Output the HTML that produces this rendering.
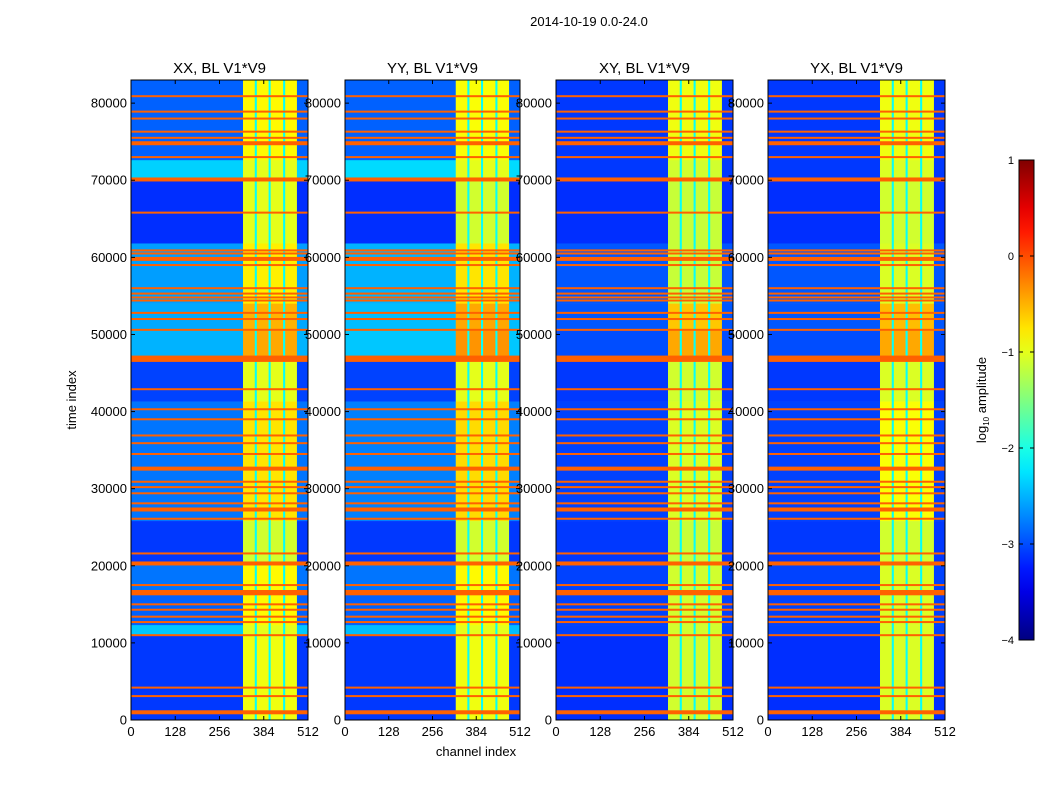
<!DOCTYPE html>
<html><head><meta charset="utf-8">
<style>
body{margin:0;background:#fff;}
svg text{font-family:"Liberation Sans","DejaVu Sans",sans-serif;fill:#000;}
</style></head>
<body>
<svg id="fig" width="1050" height="800" xmlns="http://www.w3.org/2000/svg">
<text x="589" y="26" font-size="13" text-anchor="middle">2014-10-19 0.0-24.0</text>
<text transform="translate(76,400) rotate(-90)" font-size="13" text-anchor="middle">time index</text>
<text x="476" y="756" font-size="13" text-anchor="middle">channel index</text>
<g id="panels"></g>
<defs><linearGradient id="jetg" x1="0" y1="1" x2="0" y2="0"></linearGradient></defs>
<g id="cbar"></g>
<text transform="translate(986,400) rotate(-90)" font-size="13" text-anchor="middle">log<tspan font-size="8" dy="3">10</tspan><tspan dy="-3"> amplitude</tspan></text>
</svg>
<script>
const panelTitles = ["XX, BL V1*V9","YY, BL V1*V9","XY, BL V1*V9","YX, BL V1*V9"];
const bandEdges = [83000,72600,70200,61800,54000,50500,46600,41300,25800,20500,16600,12300,11000,0];
const leftXX = [-2.9,-2.35,-3.15,-2.6,-2.55,-2.5,-3.05,-2.8,-3.1,-2.8,-2.9,-2.4,-3.1];
const rightXX = [-0.85,-1.0,-1.0,-0.8,-0.5,-0.45,-1.0,-0.75,-1.1,-0.85,-0.85,-1.0,-0.95];
const leftYY = [-2.9,-2.3,-3.15,-2.5,-2.45,-2.4,-3.05,-2.75,-3.1,-2.8,-2.9,-2.45,-3.1];
const rightYY = [-0.9,-1.0,-1.1,-0.75,-0.45,-0.35,-1.0,-0.7,-1.1,-0.85,-0.85,-1.0,-0.95];
const leftXY = [-3.1,-3.1,-3.15,-2.95,-2.95,-3.0,-3.1,-3.05,-3.1,-3.05,-3.05,-3.05,-3.15];
const rightXY = [-0.95,-1.1,-1.15,-1.15,-0.6,-0.45,-1.1,-1.05,-1.15,-1.1,-1.1,-1.1,-1.1];
const leftYX = [-3.1,-3.1,-3.15,-2.95,-2.95,-3.0,-3.1,-3.05,-3.1,-3.05,-3.05,-3.05,-3.15];
const rightYX = [-0.95,-1.05,-1.1,-1.05,-0.55,-0.45,-1.05,-0.9,-1.1,-1.05,-1.05,-1.05,-1.05];
const chanStart = [0,324,358,364,398,404,440,446,480];
const chanEnd   = [324,358,364,398,404,440,446,480,512];
const chanKind  = [0,1,2,1,2,1,2,1,0];
const stripeLevel = -2.1;
const lineTimes = [80900,78900,78000,76300,75500,74800,73000,70100,65800,60900,60500,59800,59000,56000,55300,54800,54400,52800,52000,50600,47000,46700,42900,40300,39000,36900,35900,34500,32600,30900,30200,29400,28100,27300,26100,21600,20300,17500,16600,16300,15000,14300,13400,12700,11000,4200,3100,1000];
const lineThick = [0,0,0,0,0,1,0,1,0,0,0,1,0,0,0,0,0,0,0,0,1,1,0,0,0,0,0,0,1,0,0,0,0,1,0,0,1,0,1,0,0,0,0,0,0,0,0,1];
const lineLevel = -0.1;
const yTicks = [0,10000,20000,30000,40000,50000,60000,70000,80000];
const xTicks = [0,128,256,384,512];
const cbTicks = [1,0,-1,-2,-3,-4];

const panelX = [131,345,556,768];
const panelW = [177,175,177,177];
const plotTop = 80, plotBottom = 720, tMax = 83000, vmin=-4, vmax=1;
const NS="http://www.w3.org/2000/svg";
function jet(v){
  let t=(v-vmin)/(vmax-vmin); t=Math.max(0,Math.min(1,t));
  const f=x=>Math.max(0,Math.min(1,x));
  const r=f(Math.min(4*t-1.5,-4*t+4.5)), g=f(Math.min(4*t-0.5,-4*t+3.5)), b=f(Math.min(4*t+0.5,-4*t+2.5));
  return `rgb(${Math.round(r*255)},${Math.round(g*255)},${Math.round(b*255)})`;
}
function mk(tag,attrs,parent){const e=document.createElementNS(NS,tag);for(const k in attrs)e.setAttribute(k,attrs[k]);parent.appendChild(e);return e;}
const lefts=[leftXX,leftYY,leftXY,leftYX], rights=[rightXX,rightYY,rightXY,rightYX];
const panels=document.getElementById('panels');
for(let p=0;p<4;p++){
  const x0=panelX[p], w=panelW[p];
  const xs=c=>x0+c/512*w;
  const ys=t=>plotBottom-(t/tMax)*(plotBottom-plotTop);
  const g=mk('g',{},panels);
  
  
  for(let b=0;b<bandEdges.length-1;b++){
    for(let s=0;s<chanStart.length;s++){
      const v=chanKind[s]===0?lefts[p][b]:(chanKind[s]===1?rights[p][b]:stripeLevel);
      const r=mk('rect',{x:xs(chanStart[s]),y:ys(bandEdges[b]),width:xs(chanEnd[s])-xs(chanStart[s])+0.3,height:ys(bandEdges[b+1])-ys(bandEdges[b])+0.3,fill:jet(v)},g);
      
      
    }
  }
  for(let i=0;i<lineTimes.length;i++){
    const h=lineThick[i]?4:2;
    const r=mk('rect',{x:x0,y:ys(lineTimes[i])-h/2,width:w,height:h,fill:jet(lineLevel)},g);
    
    
  }
  const fr=mk('rect',{x:x0,y:plotTop,width:w,height:plotBottom-plotTop,fill:'none',stroke:'#000','stroke-width':1},g);
  
  
  const tt=mk('text',{x:x0+w/2,y:plotTop-7,'font-size':15,'text-anchor':'middle'},g);
  tt.textContent=panelTitles[p];
  
  
  yTicks.forEach(t=>{
    const y=ys(t);
    mk('line',{x1:x0,x2:x0+4,y1:y,y2:y,stroke:'#000'},g);
    mk('line',{x1:x0+w-4,x2:x0+w,y1:y,y2:y,stroke:'#000'},g);
    const lb=mk('text',{x:x0-4,y:y+4.5,'font-size':13,'text-anchor':'end'},g);
    lb.textContent=t;
    
    
  });
  xTicks.forEach(c=>{
    const x=xs(c);
    mk('line',{x1:x,x2:x,y1:plotBottom,y2:plotBottom-4,stroke:'#000'},g);
    mk('line',{x1:x,x2:x,y1:plotTop,y2:plotTop+4,stroke:'#000'},g);
    const lb=mk('text',{x:x,y:plotBottom+16,'font-size':13,'text-anchor':'middle'},g);
    lb.textContent=c;
    
    
  });
}
const grad=document.getElementById('jetg');
for(let i=0;i<=20;i++){const v=vmin+(vmax-vmin)*i/20;mk('stop',{offset:(i/20),'stop-color':jet(v)},grad);}
const cb=document.getElementById('cbar');
const cbTop=160, cbBot=640, cbX=1019, cbW=15;
mk('rect',{x:cbX,y:cbTop,width:cbW,height:cbBot-cbTop,fill:'url(#jetg)',stroke:'#000'},cb);
const cy=v=>cbBot-(v-vmin)/(vmax-vmin)*(cbBot-cbTop);
cbTicks.forEach(v=>{
  const y=cy(v);
  mk('line',{x1:cbX,x2:cbX+4,y1:y,y2:y,stroke:'#000'},cb);
  mk('line',{x1:cbX+cbW-4,x2:cbX+cbW,y1:y,y2:y,stroke:'#000'},cb);
  const lb=mk('text',{x:cbX-5,y:y+4,'font-size':11,'text-anchor':'end'},cb);
  lb.textContent=v<0?'\u2212'+(-v):String(v);
  
  
});
</script>
</body></html>
